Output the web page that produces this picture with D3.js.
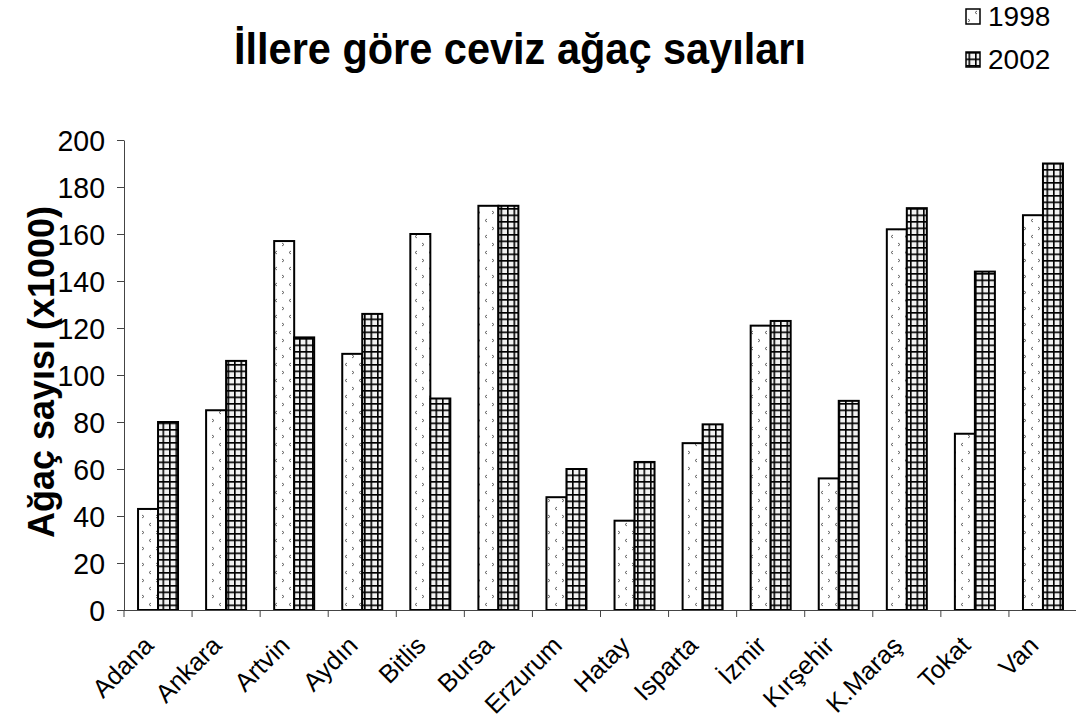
<!DOCTYPE html>
<html><head><meta charset="utf-8">
<script src="https://cdn.jsdelivr.net/npm/d3@7/dist/d3.min.js"></script>
<style>body{margin:0;background:#fff;}svg{display:block;font-family:"Liberation Sans",Arial,sans-serif;}</style>
</head><body><svg id="c" width="1076" height="724"></svg>
<script>
const categories = ["Adana","Ankara","Artvin","Aydın","Bitlis","Bursa","Erzurum","Hatay","Isparta","İzmir","Kırşehir","K.Maraş","Tokat","Van"];
const series1998 = [43,85,157,109,160,172,48,38,71,121,56,162,75,168];
const series2002 = [80,106,116,126,90,172,60,63,79,123,89,171,144,190];
const seriesNames = ["1998","2002"];
const yTicks = [0,20,40,60,80,100,120,140,160,180,200];

(function(){
const svg = d3.select("#c");
const defs = svg.append("defs");
const p1 = defs.append("pattern").attr("id","p1998").attr("patternUnits","userSpaceOnUse").attr("width",14).attr("height",16);
p1.append("rect").attr("width",14).attr("height",16).attr("fill","#fff");
p1.append("path").attr("d","M2,3 L4,4.5 L2,6").attr("fill","none").attr("stroke","#555").attr("stroke-width",0.9);
p1.append("path").attr("d","M11,11 L9,12.5 L11,14").attr("fill","none").attr("stroke","#555").attr("stroke-width",0.9);
const p2 = defs.append("pattern").attr("id","p2002").attr("patternUnits","userSpaceOnUse").attr("width",6.5).attr("height",6.5);
p2.append("rect").attr("width",6.5).attr("height",6.5).attr("fill","#f2f2f2");
p2.append("path").attr("d","M0,0.8 H6.5 M0.8,0 V6.5").attr("stroke","#000").attr("stroke-width",1.6);

const pl=124, pr=1077, pt=140, pb=610;
const x = d3.scaleBand().domain(categories).range([pl,pr]);
const y = d3.scaleLinear().domain([0,200]).range([pb,pt]);
const barW = 20;

const g = svg.append("g");
categories.forEach((c,i)=>{
  const cx = x(c)+x.bandwidth()/2;
  g.append("rect").attr("x",cx-barW).attr("y",y(series1998[i])).attr("width",barW).attr("height",y(0)-y(series1998[i]))
    .attr("fill","url(#p1998)").attr("stroke","#000").attr("stroke-width",2);
  g.append("rect").attr("x",cx).attr("y",y(series2002[i])).attr("width",barW).attr("height",y(0)-y(series2002[i]))
    .attr("fill","url(#p2002)").attr("stroke","#000").attr("stroke-width",2);
});

const ya = svg.append("g").attr("transform",`translate(${pl},0)`).call(d3.axisLeft(y).tickValues(yTicks).tickSize(7).tickPadding(12).tickSizeOuter(0));
ya.select(".domain").attr("stroke","#444");
ya.selectAll(".tick line").attr("stroke","#444");
ya.selectAll(".tick text").remove();
ya.selectAll(".tick").append("text").attr("transform",`translate(-19,0) scale(1,1.06)`).attr("text-anchor","end")
  .attr("dy","0.35em").attr("font-size",28.5).attr("fill","#000").attr("font-family","Liberation Sans, Arial, sans-serif").text(d=>d);

const xa = svg.append("g").attr("transform",`translate(0,${pb})`).call(d3.axisBottom(x).tickSize(0).tickSizeOuter(0));
xa.select(".domain").attr("stroke","#444").attr("d",`M${pl-7},0.5H${pr}`);
xa.selectAll(".tick text").remove();
const bounds = d3.range(categories.length+1).map(i=>pl+i*x.step());
xa.selectAll(".bt").data(bounds).enter().append("line").attr("x1",d=>d).attr("x2",d=>d).attr("y1",0).attr("y2",7).attr("stroke","#444");
categories.forEach(c=>{
  const cx = x(c)+x.bandwidth()/2;
  svg.append("text").attr("transform",`translate(${cx-3},${pb+37}) rotate(-45)`).attr("text-anchor","end")
    .attr("font-size",25.5).text(c);
});

svg.append("text").attr("transform",`translate(520,64) scale(1,1.08)`).attr("text-anchor","middle").attr("font-size",41.5).attr("font-weight","bold").text("İllere göre ceviz ağaç sayıları");
svg.append("text").attr("transform","translate(54,372) rotate(-90)").attr("text-anchor","middle").attr("font-size",36).attr("font-weight","bold").text("Ağaç sayısı (x1000)");

const lg = svg.append("g");
["url(#p1998)","url(#p2002)"].forEach((f,i)=>{
  const yy = 9 + i*43;
  lg.append("rect").attr("x",966).attr("y",yy).attr("width",14).attr("height",15).attr("fill",f).attr("stroke","#000").attr("stroke-width",1.5);
  lg.append("text").attr("transform",`translate(988,${yy+17})`).attr("font-size",28).text(seriesNames[i]);
});
})();
</script></body></html>
